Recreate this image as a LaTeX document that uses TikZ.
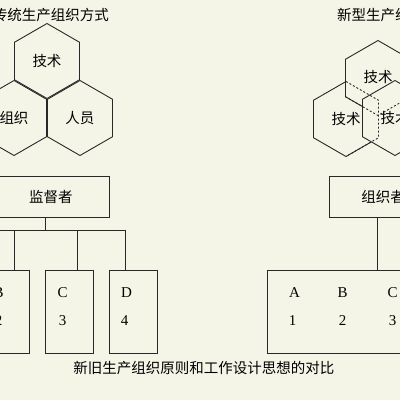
\documentclass[tikz,border=0pt]{standalone}
\usepackage{fontspec}
\setmainfont{Liberation Serif}
\newfontfamily\cjk{Noto Sans CJK SC}
\usetikzlibrary{shapes.geometric}
\definecolor{paper}{RGB}{245,245,231}
\definecolor{ink}{RGB}{40,40,40}

\begin{document}
\begin{tikzpicture}[x=1pt,y=1pt,
  hexa/.style={regular polygon, regular polygon sides=6, shape border rotate=30,
    minimum size=75pt, inner sep=0pt, draw=ink, fill=paper, line width=0.9pt,
    font=\cjk\fontsize{14.5}{17}\selectfont},
  hidden/.style={draw=ink, line width=0.9pt, dash pattern=on 2pt off 2pt},
  cjktext/.style={font=\cjk\fontsize{14.5}{17}\selectfont, inner sep=0pt, text=black},
  boss/.style={draw=ink, line width=0.9pt, minimum width=116pt, minimum height=41pt,
    inner sep=0pt, font=\cjk\fontsize{14.5}{17}\selectfont},
  unit/.style={draw=ink, line width=0.9pt, minimum width=48pt, minimum height=83pt, inner sep=0pt},
  tag/.style={font=\fontsize{15}{18}\selectfont, inner sep=0pt},
  wire/.style={draw=ink, line width=0.9pt}]
\fill[paper] (0,0) rectangle (400,400);
\useasboundingbox (0,0) rectangle (400,400);

% titles
\node[cjktext] (oldT) at (51,385) {传统生产组织方式};
\node[cjktext, anchor=west] (newT) at (337,385) {新型生产组织方式};

% old way: three hexagons side by side
\node[hexa] (hT) at (47,339) {技术};
\node[hexa] (hL) at (14,282) {组织};
\node[hexa] (hR) at (80,282) {人员};

% new way: overlapping hexagons
\node[hexa] (nL) at (346,281) {技术};
\node[hexa] (nT) at (378,322) {\raisebox{3pt}{技术}};
\node[hexa] (nR) at (395,282) {技术};
\draw[hidden] ([shift={(90:37.5)}]nL.center) -- ([shift={(30:37.5)}]nL.center)
  -- ([shift={(-30:37.5)}]nL.center) -- ([shift={(-90:37.5)}]nL.center);
\draw[hidden] ([shift={(210:37.5)}]nT.center) -- ([shift={(270:37.5)}]nT.center)
  -- ([shift={(330:37.5)}]nT.center);

% old chart
\node[boss] (sup) at (51,203.5) {监督者};
\node[unit] (uB) at (5,88.5) {};
\node[unit] (uC) at (69,88.5) {};
\node[unit] (uD) at (133,88.5) {};
\coordinate (fork) at (45,170);
\coordinate (barL) at (-10,170);
\coordinate (barR) at (125,170);
\coordinate (dB) at (14,170);
\coordinate (dC) at (77,170);
\coordinate (dD) at (125,170);
\draw[wire] (sup.south -| fork) -- (fork);
\draw[wire] (barL) -- (barR);
\draw[wire] (dB) -- (dB |- uB.north);
\draw[wire] (dC) -- (dC |- uC.north);
\draw[wire] (dD) -- (dD |- uD.north);
\node[tag] (lB) at ([shift={(18,-23)}]uB.north west) {B};
\node[tag] (nB) at ([shift={(18,-51)}]uB.north west) {2};
\node[tag] (lC) at ([shift={(18,-23)}]uC.north west) {C};
\node[tag] (nC) at ([shift={(18,-51)}]uC.north west) {3};
\node[tag] (lD) at ([shift={(18,-23)}]uD.north west) {D};
\node[tag] (nD) at ([shift={(16,-51)}]uD.north west) {4};

% new chart
\node[boss, minimum width=108pt] (org) at (383,203.5) {组织者};
\node[unit, minimum width=220pt] (team) at (377,88.5) {};
\draw[wire] (org.south -| team.north) -- (team.north);
\node[tag] (lA) at ([shift={(28,-23)}]team.north west) {A};
\node[tag] (nA) at ([shift={(26,-51)}]team.north west) {1};
\node[tag] (lB2) at ([shift={(76,-23)}]team.north west) {B};
\node[tag] (nB2) at ([shift={(76,-51)}]team.north west) {2};
\node[tag] (lC2) at ([shift={(126,-23)}]team.north west) {C};
\node[tag] (nC2) at ([shift={(126,-51)}]team.north west) {3};

% caption
\node[cjktext] (cap) at (204,32) {新旧生产组织原则和工作设计思想的对比};
\end{tikzpicture}
\end{document}
